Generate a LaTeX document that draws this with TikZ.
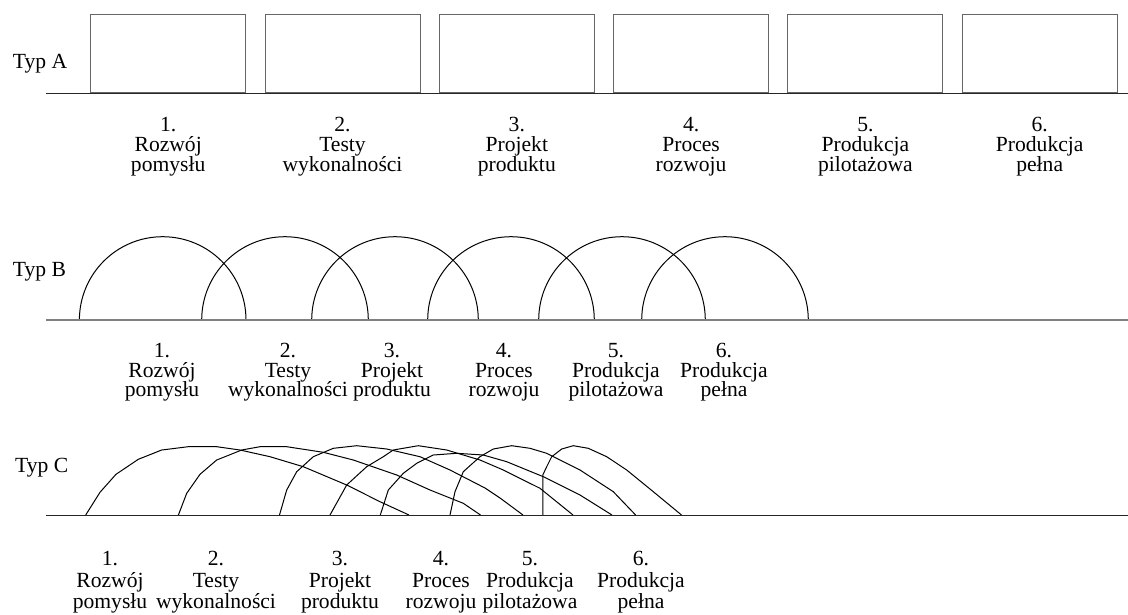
\documentclass[tikz,border=0pt]{standalone}
\usepackage{fontspec}
\setmainfont{Liberation Serif}
\begin{document}
\begin{tikzpicture}[x=1pt,y=-1pt,
  ln/.style={line width=1pt,line join=round},
  axis/.style={line width=1.1pt,black!85},
  axisb/.style={line width=2pt,black!50},
  box/.style={draw=black!60,line width=1pt,minimum width=155pt,minimum height=78pt,inner sep=0pt},
  lt/.style={anchor=base,inner sep=0pt,text height=0.66em,text depth=0.18em,font=\fontsize{21.6}{22}\selectfont},
  typ/.style={anchor=base west,inner sep=0pt,font=\fontsize{21.6}{22}\selectfont}]
\useasboundingbox (0,0) rectangle (1128,614);
% ---------- Typ A ----------
\node[typ] (ta) at (12.7,68) {Typ A};
\coordinate (a0) at (46,93.3);
\coordinate (a1) at (1128,93.3);
\draw[axis] (a0) -- (a1);
\foreach \i/\x in {1/168.2,2/342.5,3/516.8,4/691.1,5/865.4,6/1039.7}{
  \node[box] (ba\i) at (\x,53) {};
}
\foreach \i/\x/\p/\q in {1/168.2/Rozwój/pomysłu,2/342.5/Testy/wykonalności,3/516.8/Projekt/produktu,4/691.1/Proces/rozwoju,5/865.4/Produkcja/pilotażowa,6/1039.7/Produkcja/pełna}{
  \node[lt] (la\i n) at (\x,131) {\i.};
  \node[lt] (la\i a) at (\x,151) {\p};
  \node[lt] (la\i b) at (\x,171) {\q};
}
% ---------- Typ B ----------
\node[typ] (tb) at (12.7,276) {Typ B};
\coordinate (b0) at (46,320);
\coordinate (b1) at (1128,320);
\foreach \c in {162.7,285,395,511,622,725}{
  \draw[ln] (\c-83.3,320) arc[start angle=180,end angle=0,radius=83.3pt];
}
\draw[axisb] (b0) -- (b1);
\foreach \i/\x/\p/\q in {1/162/Rozwój/pomysłu,2/288/Testy/wykonalności,3/392/Projekt/produktu,4/504/Proces/rozwoju,5/616/Produkcja/pilotażowa,6/724/Produkcja/pełna}{
  \node[lt] (lb\i n) at (\x,357.5) {\i.};
  \node[lt] (lb\i a) at (\x,377) {\p};
  \node[lt] (lb\i b) at (\x,396.5) {\q};
}
% ---------- Typ C ----------
\node[typ] (tc) at (15,472) {Typ C};
\coordinate (c0) at (46,515.3);
\coordinate (c1) at (1128,515.3);
\draw[ln] (85.7,515) -- (100,492.3) -- (116,474.3) -- (138.3,459.3) -- (161.7,450) -- (188.3,446.7) -- (216.7,446.7) -- (240,450) -- (270,456.7) -- (303.3,466.7) -- (346.7,485) -- (380,501.7) -- (409,515);
\draw[ln] (178.4,515) -- (186.7,493.3) -- (200,474.3) -- (216.7,460) -- (241.7,450) -- (260,446.7) -- (286.7,446.7) -- (323.3,452.3) -- (353.3,460) -- (396.7,475) -- (430,490) -- (463.3,503.3) -- (480.5,515);
\draw[ln] (279.5,515) -- (286.7,490) -- (296.7,471.7) -- (313.3,456.7) -- (333.3,448.3) -- (356.7,445.7) -- (386.7,449) -- (420,456.7) -- (450,470) -- (485,488) -- (500,498) -- (523,515);
\draw[ln] (330,515) -- (346.7,485) -- (366.7,466.7) -- (383.3,456.7) -- (393.3,450) -- (418.3,445.7) -- (446.7,450) -- (480,460) -- (503.3,470) -- (540,488.3) -- (573,515);
\draw[ln] (380.3,515) -- (388.3,490) -- (403.3,473.3) -- (416.7,463.3) -- (433.3,455) -- (456.7,453.3) -- (483.3,455) -- (506.7,461.7) -- (543.3,476.7) -- (580,495) -- (612,515);
\draw[ln] (450,515) -- (455,491.7) -- (463.3,471.7) -- (480,456.7) -- (493.3,449) -- (511.7,445.7) -- (530,448.3) -- (546.7,453.3) -- (580,470) -- (613.3,491.7) -- (635.6,515);
\draw[ln] (542.8,515) -- (542.8,475) -- (546.7,466.7) -- (551.7,456.7) -- (561.7,449) -- (573.3,445.7) -- (588.3,448.3) -- (606.7,456.7) -- (626.7,470) -- (653.3,491.7) -- (681.5,515);
\draw[axis] (c0) -- (c1);
\foreach \i/\x/\p/\q in {1/110/Rozwój/pomysłu,2/216/Testy/wykonalności,3/340/Projekt/produktu,4/441/Proces/rozwoju,5/530/Produkcja/pilotażowa,6/641/Produkcja/pełna}{
  \node[lt] (lc\i n) at (\x,565) {\i.};
  \node[lt] (lc\i a) at (\x,587) {\p};
  \node[lt] (lc\i b) at (\x,608) {\q};
}
\end{tikzpicture}
\end{document}
